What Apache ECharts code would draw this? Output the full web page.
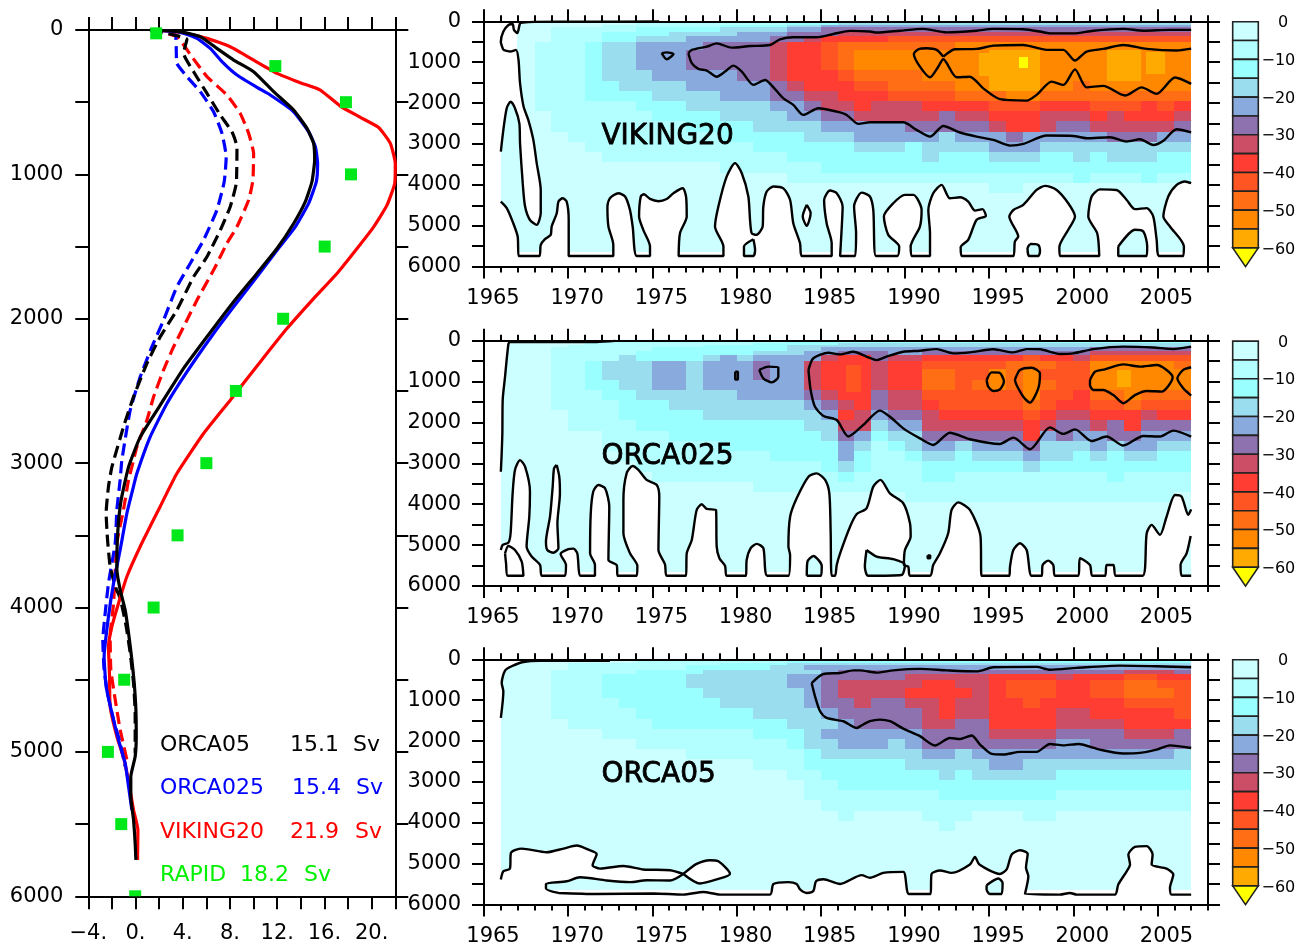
<!DOCTYPE html>
<html><head><meta charset="utf-8">
<style>html,body{margin:0;padding:0;background:#fff}#c{width:1308px;height:948px}</style>
<script src="https://cdn.jsdelivr.net/npm/echarts@6/dist/echarts.min.js"></script>
</head><body><div id="c"></div>
<script>
// ---------- colour classes: 0 = 0..-5 Sv, 1 = -5..-10 Sv ... b = -55..-60, c = below -60
const classColors=['#CCFFFF','#B3FFFF','#99FFFF','#99DDEE','#88AADD','#8E72B0','#CC4D66','#FF3D33','#FF5522','#FF6E14','#FF8800','#FFAA00','#FFFF00'];
const barLevels=[0,-5,-10,-15,-20,-25,-30,-35,-40,-45,-50,-55,-60];
const depthEdges=[0,50,100,150,250,350,500,700,950,1200,1450,1700,1950,2200,2450,2700,2950,3200,3450,3700,3950,4200,5650];
// one string per depth layer, one class code per year 1966..2006
const vikingRows=[
"00000 00000 01111 11122 22222 22222 22222 22222 2",
"00000 00011 11111 11222 33333 33333 33333 33333 3",
"00000 01111 11122 22334 44444 44444 44444 44444 4",
"00011 11122 22233 33445 55555 55555 55555 55555 5",
"00011 12222 33334 44555 66666 66666 66666 66666 6",
"00011 12233 34444 45567 77788 88888 88888 88888 8",
"00111 23344 44555 56778 99999 99aaa aaaaa aaaaa a",
"00111 23344 45555 56778 9aaaa aaaab bbaaa abbaa a",
"00111 23344 45555 56778 9aaaa aaaab bbaaa abbaa a",
"00111 23334 44445 56777 89999 aaaab bbaaa abbaa a",
"00111 22333 34444 45677 78899 99aab bbaa9 aaaaa a",
"00111 22223 33344 45566 77788 88999 aa999 99999 9",
"00111 11122 23333 34456 67666 77778 88777 88878 7",
"00011 11112 22233 33445 56666 65667 77666 76777 6",
"00011 11111 12222 33334 44445 55556 77655 66666 5",
"00001 11111 11122 22233 34444 43444 54444 45554 4",
"00000 11111 11111 22222 23332 33334 44333 33333 3",
"00000 01111 11111 11222 22222 32223 33223 23332 2",
"00000 00000 00011 11112 22222 22222 22222 22222 2",
"00000 00000 00000 00111 11111 11111 11112 11121 1",
"00000 00000 00000 00000 00000 00001 10000 00000 0",
"00000 00000 00000 00000 00000 00000 00000 00000 0"];
const orca025Rows=[
"00000 01111 11111 11222 22222 22222 22222 22222 2",
"00000 11111 11111 22222 33333 33333 33333 33333 3",
"00001 11111 11222 22333 33333 33333 33333 33333 3",
"00011 11112 22222 22334 44444 44444 44444 55555 5",
"00011 11122 22222 33344 55544 55555 55555 66666 6",
"00011 11322 22343 44446 77566 77777 78776 88888 8",
"00011 23334 43444 54467 77677 88888 99988 aaaaa 9",
"00011 23334 43444 54467 77677 9988a 9a888 aaaaa a",
"00011 22334 43444 44467 77677 9989a 9a988 aaaaa a",
"00011 12233 33334 44456 77566 88888 8a887 99a99 9",
"00011 11222 33333 33345 67566 78888 89877 88988 8",
"00001 11222 22333 33334 76455 67777 78766 77767 7",
"00001 11122 22222 22233 66344 66666 67655 65755 5",
"00000 01111 22222 22223 54233 55555 57454 45544 4",
"00000 01111 11122 22222 43123 44344 45333 43443 3",
"00000 00111 11111 12222 42112 33233 34332 32332 2",
"00000 00011 11111 11112 32111 22222 23222 22222 2",
"00000 00001 11111 11111 21111 22111 11111 12111 1",
"00000 00000 00000 11111 11111 11111 11111 11111 1",
"00000 00000 00000 00000 00001 11111 11111 11111 0",
"00000 00000 00000 00000 00000 00000 00000 00000 0",
"00000 00000 00000 00000 00000 00000 00000 00000 0"];
const orca05Rows=[
"00000 00000 00000 00111 11111 11111 11111 11111 1",
"00000 00011 11111 11222 22222 22222 22222 22222 2",
"00001 11111 11122 22333 33333 33333 33333 33333 3",
"00001 11111 12222 23344 44444 44444 44444 44444 4",
"00011 11122 22333 33334 55555 55555 55555 55666 5",
"00011 12222 23333 33445 55556 66667 77767 77887 7",
"00011 12222 23333 33445 66666 77667 88877 88998 8",
"00011 12222 22333 33345 66667 77767 88877 88999 8",
"00011 11222 22233 33345 56556 67667 78777 77888 8",
"00011 11122 22222 33334 55555 67667 77766 77777 8",
"00001 11112 22222 22333 45555 66557 77766 66777 7",
"00000 01111 11111 22234 44444 55556 66655 55666 5",
"00000 00011 11111 11233 44434 55555 55544 55555 5",
"00000 00000 01111 11123 33333 44344 44444 44444 3",
"00000 00000 00000 11122 22223 33334 43333 33333 3",
"00000 00000 00000 00112 22222 23233 33322 22222 2",
"00000 00000 00000 00011 22222 22222 22222 22222 2",
"00000 00000 00000 00011 11111 12222 22211 11111 1",
"00000 00000 00000 00001 11111 11111 11111 11111 1",
"00000 00000 00000 00000 10000 11100 01100 00000 0",
"00000 00000 00000 00000 00000 01000 00000 00000 0",
"00000 00000 00000 00000 00000 00000 00000 00000 0"];
// sub-annual patches: [year from, year to, depth from, depth to, class]
const vikingPatches=[[1994.4,1995,780,1350,11],[2004.3,2005.45,750,1300,11],[1996.8,1997.3,870,1150,12]];
const orca025Patches=[[1986.5,1987.4,600,1250,8],[2002.6,2003.4,720,1130,11]];

// ---------- contours [year, depth]
const vHook=[[1975.4,5],[1971,10],[1968,15],[1967.3,30],[1967.14,50],[1966.98,290],[1966.78,210],[1966.7,65],[1966.45,90],[1966.15,250],[1966,500],[1966.15,700]];
const vHookMask=[[1966,0],[1967.3,0],[1967.3,30],[1967.14,50],[1966.98,290],[1966.95,700],[1967.05,945],[1966,945]];
const vStrip=[[1966.15,700],[1966.55,740],[1966.9,700],[1967.05,945],[1967.14,1515],[1967.35,2085],[1967.63,2410],[1967.93,2900],[1968.13,3470],[1968.37,4125],[1968.37,4690],[1968.13,4980],[1967.73,4860],[1967.44,4530],[1967.3,3960],[1967.14,2985],[1967.1,2495],[1966.84,2125],[1966.58,1965],[1966.35,2125],[1966.15,2655],[1966,3185]];
const vStripEdge=[[1965.9,3185],[1965.9,700]];
const vBottom=[[1966,4410],[1966.35,4570],[1966.7,4900],[1967,5265],[1967.06,5740],[1968.29,5740],[1968.37,5470],[1968.62,5330],[1968.96,5225],[1969.02,5020],[1969.32,4695],[1969.42,4410],[1969.67,4330],[1969.91,4410],[1970.03,4855],[1970.03,5740],[1972.68,5740],[1972.68,5470],[1972.39,5020],[1972.33,4530],[1972.48,4330],[1972.98,4205],[1973.38,4285],[1973.67,4615],[1973.83,5020],[1974.07,5740],[1974.86,5740],[1974.86,5510],[1974.46,5100],[1974.21,4775],[1974.31,4285],[1974.5,4230],[1974.86,4345],[1975.36,4400],[1975.85,4345],[1976.25,4205],[1976.8,4085],[1977,4285],[1977.04,4775],[1976.64,5185],[1976.56,5740],[1979.22,5740],[1979.22,5510],[1978.72,5020],[1978.92,4530],[1979.41,3800],[1979.91,3470],[1980.31,3715],[1980.7,4285],[1980.8,4855],[1980.9,5185],[1981.16,5225],[1981.55,5020],[1981.59,4530],[1981.79,4165],[1982.19,4040],[1982.78,4085],[1983.18,4370],[1983.37,4940],[1983.77,5430],[1983.87,5740],[1985.65,5740],[1985.65,5430],[1985.35,4940],[1985.2,4370],[1985.55,4140],[1985.95,4205],[1986.3,4530],[1986.25,5020],[1986.15,5740],[1987.04,5740],[1987.1,5185],[1986.98,4530],[1987.43,4190],[1987.92,4285],[1988.12,4615],[1988.28,5740],[1989.54,5740],[1989.66,5510],[1989.01,5225],[1988.75,4775],[1989.31,4450],[1990,4245],[1990.5,4245],[1990.99,4615],[1990.89,5020],[1990.34,5510],[1990.4,5740],[1991.49,5740],[1991.49,5185],[1991.39,4615],[1991.68,4205],[1992.18,4000],[1992.67,4330],[1993.27,4305],[1993.76,4410],[1994.16,4630],[1994.61,4595],[1994.81,4760],[1994.26,4855],[1993.76,5345],[1993.31,5525],[1993.37,5740],[1996.44,5740],[1996.53,5385],[1996.73,5265],[1996.2,4775],[1996.44,4615],[1997.03,4490],[1997.82,4125],[1998.32,4025],[1999.01,4125],[1999.7,4450],[2000.1,4775],[1999.7,5100],[1999.17,5525],[1999.21,5740],[2001.54,5740],[2001.42,5185],[2000.89,4775],[2001.09,4285],[2001.58,4110],[2002.57,4125],[2003.17,4370],[2003.66,4595],[2004.36,4570],[2004.75,4775],[2004.95,5345],[2005.11,5740],[2006.53,5740],[2006.57,5510],[2005.74,5020],[2005.35,4775],[2005.64,4285],[2006.14,4000],[2006.63,3920],[2007,3960]];
const vOval84=[[1984.17,4490],[1984.4,4695],[1984.17,5005],[1983.93,4775],[1984.17,4490]];
const vHole81=[[1981,5330],[1981.1,5590],[1981,5740],[1980.44,5740],[1980.44,5510],[1981,5330]];
const vHole97=[[1997.43,5445],[1997.92,5470],[1998.02,5630],[1997.92,5740],[1997.38,5740],[1997.28,5550],[1997.43,5445]];
const vHole03=[[2002.67,5510],[2003.66,5100],[2004.16,5140],[2004.39,5510],[2004.36,5740],[2002.67,5740],[2002.67,5510]];
const vTop25=[[1977.14,780],[1977.34,700],[1978.23,620],[1978.82,540],[1979.71,645],[1980.8,605],[1981.99,580],[1982.58,440],[1983.37,390],[1984.76,390],[1985.75,310],[1986.74,235],[1987.92,250],[1988.32,275],[1989.7,230],[1991.09,185],[1992.48,270],[1994.26,230],[1995.25,185],[1997.03,195],[1998.02,250],[1998.61,295],[2000,295],[2001.19,230],[2002.97,185],[2004.16,230],[2005.74,210],[2007,210]];
const vLow25=[[1977.14,780],[1977.34,1025],[1977.73,1165],[1978.23,1205],[1978.82,1355],[1979.32,1230],[1979.81,1085],[1980.31,1230],[1981,1555],[1981.69,1435],[1982.19,1615],[1982.78,1885],[1983.37,2045],[1983.97,2290],[1984.86,2125],[1985.95,2210],[1986.54,2290],[1987.24,2510],[1987.92,2470],[1989.9,2470],[1990.69,2655],[1991.49,2820],[1992.28,2560],[1993.27,2720],[1994.26,2820],[1995.25,2900],[1996.24,3040],[1997.03,3000],[1998.42,2795],[2000,2805],[2000.79,2860],[2002.18,2835],[2003.17,2940],[2003.96,2885],[2004.75,3025],[2005.35,2920],[2006.14,2640],[2007,2715]];
const vOval75=[[1975.55,780],[1975.85,760],[1976.25,800],[1975.85,930],[1975.55,780]];
const vTop55=[[1992.28,865],[1992.97,685],[1994.26,675],[1995.25,595],[1997.03,580],[1998.42,700],[1999.41,700],[2000.1,960],[2000.79,740],[2001.78,675],[2002.97,580],[2004.36,675],[2006.14,715],[2007,670]];
const vLow55=[[1992.28,865],[1991.88,700],[1991.29,660],[1990.79,685],[1990.53,800],[1990.89,1110],[1991.49,1370],[1991.98,1110],[1992.28,930],[1993.07,1370],[1993.86,1355],[1994.65,1640],[1995.64,1905],[1997.23,1940],[1997.82,1800],[1998.71,1475],[1999.41,1555],[2000.1,1175],[2000.79,1615],[2001.78,1580],[2003.07,1815],[2004.06,1615],[2004.95,1775],[2006.04,1375],[2007,1530]];

const oSurface=[[1972.8,5],[1971.7,30],[1968.3,30],[1966.55,30],[1966.45,80],[1966.25,880],[1966.11,1450],[1966.09,2265],[1966.05,2755],[1966,3205]];
const oBottom=[[1966,5120],[1966.11,4995],[1966.45,4940],[1966.58,4710],[1966.7,3735],[1966.84,3160],[1967.14,2920],[1967.44,3080],[1967.73,3690],[1967.69,4305],[1967.53,5035],[1967.83,5280],[1968.33,5485],[1968.43,5750],[1969.81,5750],[1969.87,5485],[1969.55,5215],[1970.01,5100],[1970.31,5085],[1970.54,5200],[1970.74,5750],[1971.59,5750],[1971.59,5485],[1971.3,5200],[1971.34,4220],[1971.49,3690],[1971.79,3530],[1972.19,3610],[1972.44,4060],[1972.39,5365],[1972.88,5485],[1972.94,5750],[1974.07,5750],[1974.11,5510],[1973.67,5200],[1973.28,4710],[1973.28,3895],[1973.47,3245],[1973.83,3065],[1974.17,3160],[1974.66,3405],[1975.26,3530],[1975.41,3815],[1975.36,5120],[1975.75,5470],[1975.85,5750],[1977,5750],[1977.04,5200],[1977.34,4875],[1977.63,4140],[1977.93,4000],[1978.23,4115],[1978.78,4140],[1978.82,5035],[1978.98,5320],[1979.32,5510],[1979.41,5750],[1980.56,5750],[1980.6,5365],[1980.84,5075],[1981.2,4970],[1981.59,5075],[1981.83,5750],[1983.08,5750],[1983.18,5240],[1983.08,5035],[1983.18,4305],[1983.57,3855],[1984.27,3325],[1984.76,3245],[1985.26,3405],[1985.51,3735],[1985.59,4710],[1985.65,5750],[1985.85,5750],[1985.95,5485],[1986.15,5200],[1986.74,4550],[1987.14,4240],[1987.72,4100],[1988.12,3570],[1988.55,3405],[1989.11,3735],[1989.9,3975],[1990.3,4465],[1990.34,4790],[1990,5120],[1989.94,5485],[1990.2,5525],[1990.3,5750],[1991.49,5750],[1991.68,5485],[1992.08,5200],[1992.57,4710],[1992.77,4140],[1993.17,3955],[1993.86,4140],[1994.49,4790],[1994.55,5750],[1996.2,5750],[1996.24,5525],[1996.44,5120],[1996.83,4955],[1997.23,5120],[1997.52,5750],[1998.12,5750],[1998.18,5485],[1998.51,5380],[1998.81,5485],[1998.91,5750],[2000.3,5750],[2000.4,5320],[2000.99,5485],[2001.13,5750],[2001.88,5750],[2001.98,5485],[2002.38,5485],[2002.53,5750],[2004.12,5750],[2004.36,4710],[2004.65,4505],[2005.15,4750],[2005.54,4305],[2006.04,3775],[2006.43,3815],[2006.83,4260],[2007,4125]];
const oLoop66=[[1966.25,5200],[1966.45,5020],[1966.84,5120],[1967.24,5405],[1967.34,5750],[1966.41,5750],[1966.31,5445],[1966.25,5200]];
const oStrip69=[[1969.32,3040],[1969.47,3325],[1969.51,3735],[1969.36,4465],[1969.42,5075],[1969.12,5185],[1968.76,5120],[1968.68,4915],[1968.92,4305],[1969.08,3570],[1969.16,3120],[1969.32,3040]];
const oHole88=[[1987.72,5120],[1988.32,5280],[1989.31,5345],[1990,5485],[1989.8,5730],[1987.82,5750],[1987.62,5525],[1987.72,5120]];
const oHole84=[[1984.17,5750],[1984.21,5405],[1984.56,5265],[1985.06,5510],[1985.02,5750],[1984.17,5750]];
const oHole06=[[2006.97,4775],[2006.73,5200],[2006.37,5485],[2006.43,5750],[2007,5750]];
const oTop25=[[1984.27,715],[1984.56,430],[1985.45,295],[1986.15,335],[1986.94,270],[1987.72,390],[1988.32,475],[1988.91,390],[1989.9,270],[1990.89,245],[1991.88,205],[1992.87,310],[1993.86,285],[1995.25,210],[1996.44,285],[1997.23,205],[1998.02,210],[1999.21,325],[2000,310],[2001.19,205],[2002.97,145],[2004.75,165],[2005.94,205],[2007,145]];
const oLow25=[[1984.27,715],[1984.4,1205],[1984.66,1615],[1985.16,1840],[1985.95,1940],[1986.64,2345],[1987.53,2060],[1988.51,1710],[1989.11,1860],[1989.9,2145],[1990.89,2390],[1991.68,2550],[1992.67,2250],[1993.86,2410],[1995.64,2525],[1996.44,2370],[1997.43,2655],[1998.61,2120],[1999.41,2280],[2000.1,2170],[2001.09,2455],[2001.98,2345],[2002.97,2565],[2004.16,2330],[2005.15,2345],[2005.94,2200],[2007,2345]];
const oBlob81=[[1981.35,715],[1981.89,635],[1982.48,650],[1982.48,880],[1982.09,1020],[1981.59,920],[1981.35,715]];
const oDot80=[[1979.92,760],[1980.08,760],[1980.08,950],[1979.92,950],[1979.92,760]];
const oDot91=[[1991.35,5250],[1991.5,5250],[1991.5,5320],[1991.35,5320],[1991.35,5250]];
const oLoop95=[[1994.85,960],[1995.15,775],[1995.6,780],[1995.88,1000],[1995.64,1190],[1995.25,1230],[1994.95,1125],[1994.85,960]];
const oLoop97=[[1996.53,960],[1996.83,715],[1997.52,660],[1998.02,800],[1997.92,1165],[1997.43,1515],[1997.03,1370],[1996.63,1085],[1996.53,960]];
const oLoop03=[[2000.99,960],[2001.29,760],[2001.88,700],[2002.97,580],[2003.96,635],[2004.95,595],[2005.54,715],[2005.9,895],[2005.25,1245],[2004.36,1230],[2003.66,1330],[2002.97,1530],[2002.38,1330],[2001.78,1205],[2001.19,1205],[2000.99,1085],[2000.99,960]];
const oLoop06=[[2007,650],[2006.53,715],[2006.18,920],[2006.53,1165],[2007,1345]];

const hSurface=[[1972.48,35],[1968.33,35],[1967.34,65],[1966.64,170],[1966.25,275],[1966.05,580],[1966.15,780],[1966,1435]];
const hUpper=[[1966,5385],[1966.15,5185],[1966.54,5120],[1966.6,4735],[1967.24,4630],[1968.72,4720],[1969.71,4630],[1970.5,4555],[1971.2,4655],[1971.69,4760],[1971.45,5035],[1971.89,5120],[1973.28,5055],[1974.46,5140],[1976.05,5160],[1976.84,5250]];
const hLoop78=[[1976.84,5250],[1977.83,5485],[1978.82,5385],[1979.61,5250],[1978.92,4940],[1978.42,4915],[1977.63,5005],[1976.84,5250]];
const hMiddle=[[1976.84,5250],[1976.05,5410],[1974.66,5405],[1973.67,5450],[1972.29,5410],[1970.7,5330],[1969.91,5430],[1968.68,5495],[1968.68,5605],[1969.42,5715]];
const hBottom=[[1969.42,5715],[1971.69,5740],[1975.06,5730],[1976.84,5755],[1978.03,5690],[1979.02,5755],[1981.99,5755],[1982.19,5495],[1983.08,5450],[1983.57,5495],[1983.77,5630],[1984.17,5715],[1984.56,5670],[1984.72,5430],[1985.16,5380],[1986.15,5495],[1987.43,5280],[1987.92,5345],[1988.71,5225],[1989.9,5200],[1990.24,5740],[1991.52,5740],[1991.58,5250],[1992.08,5165],[1992.77,5225],[1993.86,5020],[1994.16,4835],[1994.42,5020],[1995.64,5250],[1996.04,5140],[1996.34,4775],[1996.83,4670],[1997.29,4760],[1997.19,5100],[1997.33,5305],[1997.13,5740],[1999.21,5755],[1999.8,5715],[2000.2,5755],[2002.47,5755],[2002.67,5510],[2003.17,5185],[2003.37,5020],[2003.27,4775],[2003.66,4590],[2004.36,4570],[2004.71,4775],[2004.65,5020],[2005.54,5120],[2005.94,5265],[2005.74,5590],[2005.84,5755],[2007,5755]];
const hHole95=[[1994.85,5525],[1995.54,5360],[1995.8,5470],[1995.74,5740],[1995.05,5740],[1994.85,5630],[1994.85,5525]];
const hTop25=[[1984.46,580],[1985.16,360],[1986.15,335],[1986.94,270],[1987.33,270],[1988.32,325],[1989.31,270],[1990.89,235],[1992.48,270],[1994.26,295],[1995.25,195],[1997.82,185],[1998.61,255],[2000.2,210],[2002.77,155],[2004.95,170],[2007,195]];
const hLow25=[[1984.46,580],[1984.66,905],[1984.96,1270],[1985.35,1435],[1986.34,1515],[1987.14,1680],[1987.33,1640],[1987.92,1515],[1988.51,1475],[1989.11,1515],[1989.9,1695],[1990.89,1880],[1991.78,2110],[1992.67,1925],[1993.27,1950],[1993.96,1865],[1994.46,2085],[1995.15,2315],[1995.84,2330],[1996.83,2265],[1997.82,2265],[1998.61,2070],[1999.41,2105],[2000.3,2070],[2001.58,2210],[2002.97,2305],[2003.96,2290],[2004.95,2210],[2005.74,2105],[2007,2170]];

// ---------- left panel profiles [Sv, depth]
const orca05Mean=[[1.2,0],[2.66,5],[4.07,16],[5.48,46],[6.89,127],[8.31,208],[10,289],[11.7,427],[13.39,554],[14.52,681],[15.08,785],[15.17,901],[14.94,1051],[14.38,1189],[13.39,1340],[11.98,1513],[10.28,1686],[8.31,1882],[6.05,2125],[4.07,2344],[2.09,2598],[0.4,2818],[-0.59,3026],[-1.24,3265],[-1.53,3507],[-1.58,3739],[-1.3,3877],[-0.88,4016],[-0.59,4177],[-0.31,4362],[-0.11,4524],[0.03,4709],[0.06,4894],[-0.03,5032],[-0.4,5171],[-0.4,5309],[-0.17,5471],[-0.03,5633],[0.03,5748]];
const orca025Mean=[[1.24,0],[3.79,16],[5.2,58],[6.33,127],[7.32,219],[8.59,312],[10.28,397],[11.41,450],[13.39,566],[14.66,705],[15.23,809],[15.42,924],[15.31,1051],[14.66,1201],[13.53,1363],[11.98,1525],[10.28,1709],[8.31,1917],[6.61,2102],[4.35,2368],[2.66,2587],[1.24,2818],[0.11,3072],[-0.17,3161],[-0.73,3346],[-1.3,3600],[-1.86,3831],[-2.29,4062],[-2.66,4339],[-2.49,4547],[-2,4732],[-1.44,4917],[-0.88,5078],[-0.59,5240],[-0.31,5402]];
const vikingMean=[[1.24,0],[3.79,16],[6.05,58],[8.02,116],[10,208],[11.98,300],[13.95,365],[15.65,416],[17.34,527],[19.04,605],[20.59,675],[21.58,785],[22,924],[21.95,1063],[21.3,1213],[20.17,1363],[18.76,1513],[17.06,1686],[15.08,1860],[12.82,2068],[10.56,2299],[8.02,2564],[5.76,2795],[3.5,3072],[2.09,3300],[0.4,3577],[-0.73,3785],[-1.44,3970],[-2,4131],[-2.29,4270],[-2.2,4478],[-2.15,4686],[-1.58,4894],[-0.96,5055],[-0.51,5240],[-0.17,5402],[0.2,5540],[0.17,5748]];
const orca05Early=[[1.3,0],[4.35,65],[4.07,162],[4.92,289],[6.05,439],[7.18,589],[8.16,705],[8.59,809],[8.53,1063],[8.02,1224],[7.18,1386],[6.05,1571],[4.92,1709],[3.5,1940],[2.09,2125],[0.96,2310],[-0.17,2541],[-1.02,2749],[-2,3026],[-2.29,3161],[-2.49,3346],[-2.37,3531],[-2.15,3715],[-1.72,3854],[-1.3,3935],[-0.79,4131],[-0.45,4316],[-0.17,4524],[-0.03,4732],[-0.03,5009]];
const orca025Early=[[1.3,0],[3.36,35],[3.45,139],[3.5,231],[4.35,323],[5.48,427],[6.61,566],[7.32,716],[7.68,878],[7.51,1051],[6.89,1247],[5.76,1455],[4.63,1617],[3.5,1779],[2.37,2010],[1.38,2195],[0.4,2402],[-0.45,2633],[-1.16,2980],[-1.3,3115],[-1.58,3323],[-1.72,3554],[-2.29,3831],[-2.57,4039],[-2.77,4224],[-2.66,4432],[-2.37,4593],[-1.86,4778],[-1.3,4940],[-0.88,5101]];
const vikingEarly=[[1.3,0],[3.5,46],[4.77,185],[6.05,323],[7.74,450],[8.87,578],[9.58,716],[10,855],[9.94,1040],[9.58,1178],[8.59,1363],[7.74,1478],[6.61,1663],[5.2,1871],[4.21,2033],[3.22,2195],[2.37,2356],[1.53,2541],[0.96,2703],[0.11,2888],[-0.31,3026],[-0.59,3115],[-1.02,3323],[-1.58,3554],[-1.86,3970],[-2.15,4200],[-2.09,4431],[-1.72,4639],[-1.3,4847],[-0.73,5055]];
const rapid=[[1.75,23],[11.84,250],[17.82,500],[18.25,1000],[16.02,1500],[12.5,2000],[8.5,2500],[6,3000],[3.56,3500],[1.53,4000],[-0.96,4500],[-2.34,5000],[-1.21,5500],[-0.03,6000]];

const majorYears=[1965,1970,1975,1980,1985,1990,1995,2000,2005];
const legendRows=[['ORCA05','15.1','Sv','#000000'],['ORCA025','15.4','Sv','#0000FF'],['VIKING20','21.9','Sv','#FF0000'],['RAPID','18.2','Sv','#00F000']];

// ---------- layout
const FONT='"DejaVu Sans"';
const LINE={lineStyle:{color:'#000',width:2}};
const grids=[],xAxes=[],yAxes=[],series=[],graphics=[];
const textStyle={fontFamily:FONT,fontSize:21,color:'#000'};

function cellsFrom(rows){
  const out=[];
  rows.forEach((s,r)=>{
    const codes=s.replace(/ /g,'');
    for(let c=0;c<codes.length;c++){
      out.push([1966+c,1967+c,depthEdges[r],depthEdges[r+1],parseInt(codes[c],16)]);
    }
  });
  return out;
}
function renderCell(p,api){
  const a=api.coord([api.value(0),api.value(2)]),b=api.coord([api.value(1),api.value(3)]);
  const x=Math.round(a[0]),y=Math.round(a[1]);
  return {type:'rect',shape:{x,y,width:Math.round(b[0])-x,height:Math.round(b[1])-y},style:{fill:classColors[api.value(4)]}};
}
function polySeries(polys,color,xi,yi,z){
  return {type:'custom',silent:true,xAxisIndex:xi,yAxisIndex:yi,z,clip:true,
    data:polys.map((p,i)=>[i]),
    renderItem:(p,api)=>({type:'polygon',shape:{points:polys[api.value(0)].map(q=>api.coord(q))},style:{fill:color}})};
}
function joined(lines){
  const d=[];
  lines.forEach(l=>{l.forEach(q=>d.push(q));d.push([null,null]);});
  return d;
}
function closedToBottom(l){
  return l.concat([[l[l.length-1][0],5760],[l[0][0],5760]]);
}

function addPanel(gridTop,rows,extra,white,cyan,lines,title){
  const g=grids.length;
  grids.push({left:484,top:gridTop,width:724,height:245.3});
  const base=xAxes.length,yb=yAxes.length;
  const common={type:'value',gridIndex:g,min:1965,max:2008,z:6,splitLine:{show:false},
    axisLine:Object.assign({onZero:false},LINE)};
  ['bottom','top'].forEach((pos,k)=>{
    xAxes.push(Object.assign({},common,{position:pos,interval:5,
      axisTick:{length:12,lineStyle:LINE.lineStyle,customValues:majorYears},
      axisLabel:k===0?Object.assign({},textStyle,{margin:21,padding:[0,0,0,18],customValues:majorYears,formatter:v=>String(v)}):{show:false}}));
    xAxes.push(Object.assign({},common,{position:pos,interval:1,axisLine:{show:false,onZero:false},
      axisTick:{length:6,lineStyle:LINE.lineStyle},axisLabel:{show:false}}));
  });
  ['left','right'].forEach((pos,k)=>{
    yAxes.push({type:'value',gridIndex:g,position:pos,inverse:true,min:0,max:6000,interval:500,z:6,
      splitLine:{show:false},axisLine:Object.assign({onZero:false},LINE),
      axisTick:{length:12,lineStyle:LINE.lineStyle},
      axisLabel:k===0?Object.assign({},textStyle,{margin:23,padding:[0,0,3,0],formatter:v=>v%1000===0?String(v):''}):{show:false}});
  });
  const data=cellsFrom(rows).concat(extra);
  series.push({type:'custom',silent:true,xAxisIndex:base,yAxisIndex:yb,z:2,clip:true,
    data,encode:{x:[0,1],y:[2,3]},renderItem:renderCell});
  series.push(polySeries(white,'#FFFFFF',base,yb,3));
  series.push(polySeries(cyan,classColors[0],base,yb,4));
  series.push({type:'line',silent:true,xAxisIndex:base,yAxisIndex:yb,z:5,showSymbol:false,smooth:0.25,clip:false,
    data:joined(lines),lineStyle:{color:'#000',width:2.4},connectNulls:false});
  graphics.push({type:'text',left:601,top:gridTop+101.5,z:50,
    style:{text:title,font:'28px '+FONT,fill:'#000',stroke:'#000',lineWidth:0.8}});

  // colour bar
  const cb=grids.length;
  grids.push({left:1232.7,top:gridTop+0.4,width:25.6,height:245});
  const xi=xAxes.length,yi=yAxes.length;
  xAxes.push({type:'value',gridIndex:cb,min:0,max:1,show:false});
  yAxes.push({type:'value',gridIndex:cb,position:'right',min:-65,max:0,interval:5,
    splitLine:{show:false},axisLine:{show:false,onZero:false},axisTick:{show:false},
    axisLabel:{fontFamily:FONT,fontSize:16,color:'#000',margin:37,align:'right',padding:[3,0,0,0],
      formatter:v=>v===0?'{z|0}':(v%10===0&&v>=-60?'\u2212'+Math.abs(v):''),
      rich:{z:{fontFamily:FONT,fontSize:16,color:'#000',padding:[0,7,0,0]}}}});
  series.push({type:'custom',silent:true,xAxisIndex:xi,yAxisIndex:yi,z:3,clip:false,
    data:barLevels.map((v,i)=>[i,v]),
    renderItem:(p,api)=>{
      const i=api.value(0),top=api.value(1);
      if(i<12){
        const a=api.coord([0,top]),b=api.coord([1,top-5]);
        return {type:'rect',shape:{x:a[0],y:a[1],width:b[0]-a[0],height:b[1]-a[1]},
          style:{fill:classColors[i],stroke:'#222',lineWidth:1.6}};
      }
      return {type:'polygon',shape:{points:[api.coord([0,top]),api.coord([1,top]),api.coord([0.5,top-5])]},
        style:{fill:classColors[12],stroke:'#222',lineWidth:1.6}};
    }});
}

// left profile panel
grids.push({left:88.3,top:30,width:307,height:866.3});
['bottom','top'].forEach((pos,k)=>{
  xAxes.push({type:'value',gridIndex:0,position:pos,min:-4,max:22,interval:2,z:6,splitLine:{show:false},
    axisLine:Object.assign({onZero:false},LINE),axisTick:{length:13,lineStyle:LINE.lineStyle},
    axisLabel:k===0?Object.assign({},textStyle,{margin:25,padding:[2,0,0,0],
      formatter:v=>v%4===0?(v<0?'\u2212':'')+Math.abs(v)+'.':''}):{show:false}});
});
['left','right'].forEach((pos,k)=>{
  yAxes.push({type:'value',gridIndex:0,position:pos,inverse:true,min:0,max:6000,interval:500,z:6,splitLine:{show:false},
    axisLine:Object.assign({onZero:false},LINE),axisTick:{length:13,lineStyle:LINE.lineStyle},
    axisLabel:k===0?Object.assign({},textStyle,{margin:25,padding:[0,0,3,0],formatter:v=>v%1000===0?String(v):''}):{show:false}});
});
function profile(data,color,dashed,z){
  series.push({type:'line',silent:true,xAxisIndex:0,yAxisIndex:0,z,showSymbol:false,smooth:0.15,clip:false,
    data,lineStyle:{color,width:3.2,type:dashed?[12,6]:'solid'}});
}
profile(vikingEarly,'#FF0000',true,3);
profile(orca025Early,'#0000FF',true,4);
profile(orca05Early,'#000000',true,5);
profile(vikingMean,'#FF0000',false,6);
profile(orca025Mean,'#0000FF',false,7);
profile(orca05Mean,'#000000',false,8);
series.push({type:'scatter',silent:true,xAxisIndex:0,yAxisIndex:0,z:9,symbol:'rect',symbolSize:12,
  itemStyle:{color:'#00E81A',opacity:1},
  data:rapid.map(q=>q[1]===6000?{value:q,symbolSize:[12,6],symbolOffset:[0,-3]}:q)});
const legendY=[744,787,830.5,874],numX=[290,292,290,240],unitX=[353,356,355,304];
legendRows.forEach((r,i)=>{
  const st=(t,x)=>({type:'text',left:x,top:legendY[i]-9.5,z:50,style:{text:t,font:'22px '+FONT,fill:r[3]}});
  graphics.push(st(r[0],160),st(r[1],numX[i]),st(r[2],unitX[i]));
});

addPanel(21.3,vikingRows,vikingPatches,
  [vHookMask,vStrip.concat(vStripEdge),closedToBottom(vBottom),vOval84],[vHole81,vHole97,vHole03],
  [vHook,vStrip,vBottom,vOval84,vHole81,vHole97,vHole03,vTop25,vLow25,vOval75,vTop55,vLow55],'VIKING20');
addPanel(340.7,orca025Rows,orca025Patches,
  [[[1966,0]].concat(oSurface),closedToBottom(oBottom),oStrip69],[oHole88,oHole84,oHole06],
  [oSurface,oBottom,oLoop66,oStrip69,oHole88,oHole84,oHole06,oTop25,oLow25,oBlob81,oDot80,oDot91,oLoop95,oLoop97,oLoop03,oLoop06],'ORCA025');
addPanel(659.3,orca05Rows,[],
  [[[1966,0]].concat(hSurface),hUpper.concat(hMiddle,[[1966,5760]]),hLoop78,closedToBottom(hBottom)],[hHole95],
  [hSurface,hUpper,hLoop78,hMiddle,hBottom,hHole95,hTop25,hLow25],'ORCA05');

const chart=echarts.init(document.getElementById('c'),null,{renderer:'canvas'});
chart.setOption({animation:false,backgroundColor:'#fff',grid:grids,xAxis:xAxes,yAxis:yAxes,series,graphic:graphics});
</script></body></html>
